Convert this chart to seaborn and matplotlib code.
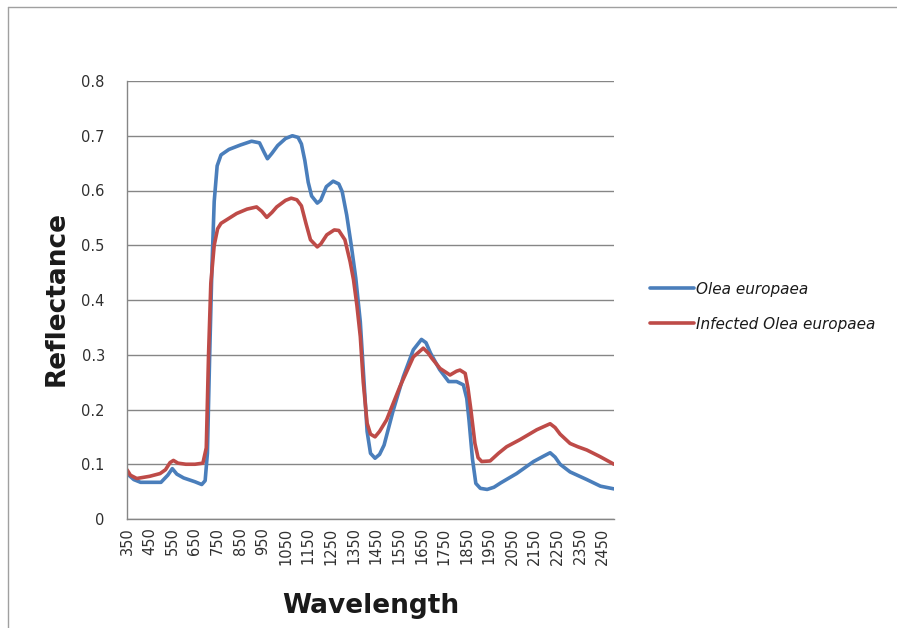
#!/usr/bin/env python3

import numpy as np
import matplotlib
matplotlib.use("Agg")
import matplotlib.pyplot as plt
import seaborn as sns
from matplotlib.lines import Line2D
from pandas import DataFrame

series_names = ["Olea europaea", "Infected Olea europaea"]

olea_wl = [350, 380, 410, 500, 530, 550, 570, 600, 650, 680, 695, 705, 715, 725,
           735, 748, 765, 800, 850, 900, 935, 955, 970, 990, 1015, 1050, 1080,
           1105, 1120, 1135, 1150, 1165, 1190, 1205, 1230, 1260, 1285, 1300,
           1320, 1340, 1360, 1380, 1395, 1410, 1425, 1445, 1465, 1485, 1525,
           1570, 1614, 1650, 1670, 1690, 1730, 1770, 1805, 1835, 1850, 1860,
           1875, 1890, 1910, 1940, 1970, 2000, 2070, 2145, 2190, 2218, 2240,
           2262, 2306, 2380, 2440, 2500]
olea_refl = [0.083, 0.072, 0.067, 0.067, 0.080, 0.092, 0.082, 0.075, 0.068,
             0.063, 0.070, 0.120, 0.300, 0.460, 0.580, 0.645, 0.665, 0.675,
             0.683, 0.690, 0.687, 0.670, 0.658, 0.668, 0.682, 0.695, 0.700,
             0.697, 0.685, 0.655, 0.615, 0.590, 0.577, 0.582, 0.607, 0.617,
             0.612, 0.598, 0.555, 0.500, 0.440, 0.360, 0.260, 0.160, 0.120,
             0.111, 0.118, 0.135, 0.198, 0.260, 0.309, 0.328, 0.322, 0.303,
             0.273, 0.251, 0.251, 0.245, 0.220, 0.180, 0.110, 0.065, 0.056,
             0.054, 0.058, 0.066, 0.083, 0.105, 0.115, 0.121, 0.113, 0.100,
             0.086, 0.072, 0.060, 0.055]

infected_wl = [350, 365, 393, 450, 496, 520, 540, 555, 575, 610, 650, 685, 700,
               710, 720, 735, 750, 765, 834, 880, 922, 945, 967, 990, 1011,
               1050, 1075, 1100, 1120, 1140, 1160, 1190, 1205, 1232, 1265, 1285,
               1312, 1335, 1350, 1365, 1380, 1393, 1410, 1425, 1445, 1465, 1496,
               1555, 1614, 1658, 1680, 1695, 1732, 1776, 1805, 1820, 1843, 1855,
               1868, 1886, 1900, 1916, 1953, 1990, 2026, 2085, 2159, 2218, 2240,
               2262, 2306, 2340, 2380, 2438, 2500]
infected_refl = [0.090, 0.080, 0.074, 0.078, 0.083, 0.090, 0.103, 0.107, 0.102,
                 0.100, 0.100, 0.102, 0.130, 0.300, 0.430, 0.500, 0.530, 0.540,
                 0.558, 0.566, 0.570, 0.562, 0.551, 0.560, 0.570, 0.582, 0.586,
                 0.583, 0.572, 0.540, 0.510, 0.497, 0.502, 0.519, 0.528, 0.527,
                 0.510, 0.470, 0.437, 0.390, 0.333, 0.250, 0.175, 0.155, 0.150,
                 0.160, 0.181, 0.242, 0.296, 0.312, 0.303, 0.294, 0.275, 0.263,
                 0.270, 0.272, 0.266, 0.240, 0.200, 0.138, 0.112, 0.105, 0.106,
                 0.120, 0.132, 0.145, 0.163, 0.174, 0.167, 0.155, 0.138, 0.132,
                 0.126, 0.114, 0.100]

x_ticks = list(range(350, 2451, 100))
y_ticks = [0, 0.1, 0.2, 0.3, 0.4, 0.5, 0.6, 0.7, 0.8]
y_tick_labels = ["0", "0.1", "0.2", "0.3", "0.4", "0.5", "0.6", "0.7", "0.8"]


def build_frame():
    rows = []
    for wl, r in zip(olea_wl, olea_refl):
        rows.append({"wavelength": wl, "reflectance": r, "sample": series_names[0]})
    for wl, r in zip(infected_wl, infected_refl):
        rows.append({"wavelength": wl, "reflectance": r, "sample": series_names[1]})
    return DataFrame(rows)


def main():
    sns.set_style("white")
    plt.rcParams['font.family'] = ['DejaVu Sans']

    data = build_frame()

    fig = plt.figure(figsize=(8.97, 6.28), dpi=100)
    ax = fig.add_axes([127 / 897, 1 - 519 / 628, 487 / 897, 438 / 628])

    colors = {series_names[0]: "#4A7EBB", series_names[1]: "#BE4B48"}
    sns.lineplot(data=data, x="wavelength", y="reflectance", hue="sample",
                 palette=colors, estimator=None, sort=True, linewidth=2.6,
                 ax=ax, legend=False)

    ax.set_xlim(350, 2500)
    ax.set_ylim(0, 0.8)
    ax.set_yticks(y_ticks)
    ax.set_yticklabels(y_tick_labels)
    ax.set_xticks(x_ticks)
    ax.set_xticklabels([str(t) for t in x_ticks], rotation=90)
    ax.tick_params(axis='both', labelsize=10.5, colors="#404040", length=3,
                   width=0.8, direction='out')
    ax.tick_params(axis='y', pad=13)
    ax.tick_params(axis='x', pad=3)
    for lbl in ax.get_xticklabels() + ax.get_yticklabels():
        lbl.set_color("#303030")
    ax.yaxis.grid(True, color="#868686", linewidth=1.0)
    ax.set_axisbelow(True)
    for side in ["top", "right"]:
        ax.spines[side].set_visible(False)
    for side in ["left", "bottom"]:
        ax.spines[side].set_color("#868686")
        ax.spines[side].set_linewidth(1.0)

    ax.set_xlabel("")
    ax.set_ylabel("")
    fig.text(371 / 897, 1 - 606 / 628, "Wavelength", ha='center', va='center',
             fontsize=19, fontweight='bold', color="#1a1a1a")
    fig.text(57 / 897, 1 - 298 / 628, "Reflectance", ha='center', va='center',
             rotation=90, fontsize=19, fontweight='bold', color="#1a1a1a")

    # legend on the right, Excel style
    handles = [Line2D([0], [0], color=colors[n], linewidth=2.6) for n in series_names]
    leg = fig.legend(handles, series_names, loc='upper left',
                     bbox_to_anchor=(636 / 897, 1 - 268 / 628), frameon=False,
                     handlelength=2.9, handletextpad=0.1, labelspacing=1.3,
                     prop={'size': 11, 'style': 'italic'})
    for t in leg.get_texts():
        t.set_color("#1a1a1a")

    # outer chart frame
    fig.add_artist(Line2D([8 / 897, 8 / 897], [0, 1 - 7 / 628],
                          transform=fig.transFigure, color="#a0a0a0", linewidth=1.0))
    fig.add_artist(Line2D([8 / 897, 1], [1 - 7 / 628, 1 - 7 / 628],
                          transform=fig.transFigure, color="#a0a0a0", linewidth=1.0))

    plt.savefig('out.png', dpi=100)


if __name__ == "__main__":
    main()
